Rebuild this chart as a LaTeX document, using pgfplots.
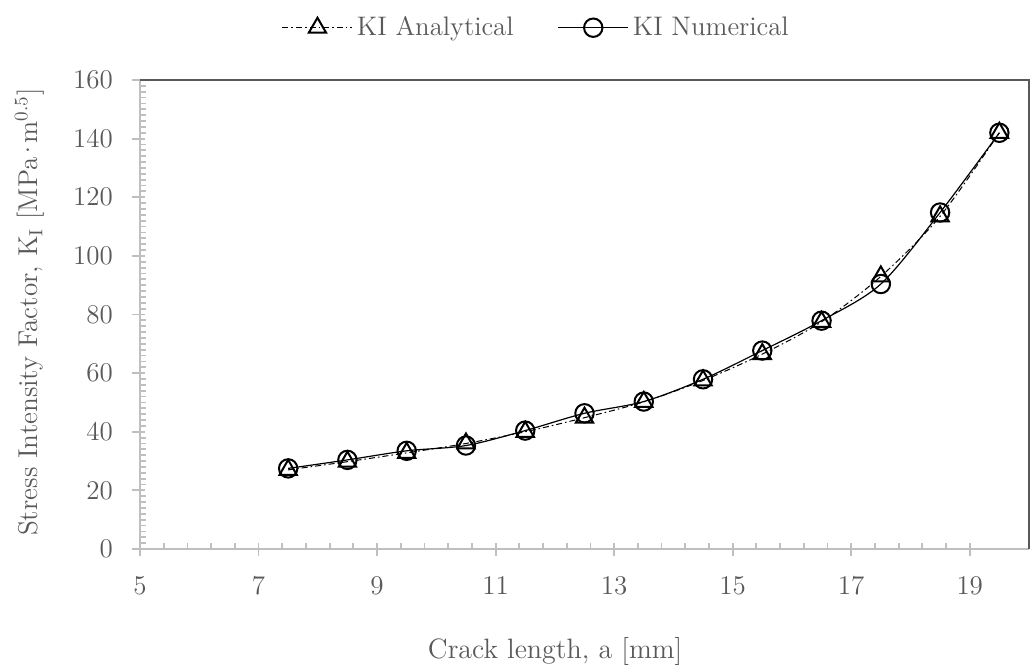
\documentclass[border=0pt]{standalone}
\usepackage{fontspec}
\usepackage{pgfplots}
\pgfplotsset{compat=1.18}
\definecolor{txt}{HTML}{595959}
\definecolor{axl}{HTML}{BFBFBF}
\definecolor{brd}{HTML}{595959}
\begin{document}
\begin{tikzpicture}
\useasboundingbox (-70pt,-61pt) rectangle (447pt,274.5pt);
\begin{axis}[
  at={(0,0)}, anchor=south west,
  scale only axis, width=444.5pt, height=234.5pt,
  xmin=5, xmax=20, ymin=0, ymax=160,
  xtick={5,7,...,19}, ytick={0,20,...,160},
  minor x tick num=4, minor y tick num=9,
  axis x line*=bottom, axis y line*=left,
  axis line style={axl, line width=0.9pt},
  every tick/.style={axl, line width=0.9pt},
  tick align=inside,
  major tick length=6.5pt, minor tick length=2.8pt,
  major x tick style={yshift=-3.5pt},
  major y tick style={xshift=-3.8pt},
  /pgf/number format/assume math mode=true,
  tick label style={text=txt, font=\fontsize{13.5}{15}\selectfont},
  xticklabel style={yshift=-10pt},
  yticklabel style={xshift=-10pt},
  every axis x label/.style={at={(axis description cs:0.467,0)}, anchor=center, yshift=-51pt},
  every axis y label/.style={at={(axis description cs:-0.124,0.505)}, anchor=center, rotate=90},
  label style={text=txt},
  x label style={font=\fontsize{14}{16}\selectfont},
  y label style={font=\fontsize{13.6}{16}\selectfont},
  xlabel={Crack length, a [mm]},
  ylabel={Stress Intensity Factor, K\textsubscript{I} [MPa\kern-1.8pt·\kern-1.8pt m\textsuperscript{0.5}]},
  legend style={draw=none, fill=none, at={(axis description cs:0.447,1.153)}, anchor=north,
    font=\fontsize{13.4}{15}\selectfont, text=txt,
    /tikz/every even column/.append style={column sep=20pt}},
  legend columns=2,
  legend image code/.code={\draw[mark repeat=2,mark phase=2,#1] plot coordinates {(0pt,0pt)(17.5pt,0pt)(35pt,0pt)};},
  clip=false,
]
\addplot[black, line width=0.5pt, smooth, dash pattern=on 3pt off 1.5pt on 0.8pt off 1.5pt,
  mark=triangle, mark size=5pt, mark options={solid, line width=1pt}]
coordinates {(7.5,27)(8.5,29.8)(9.5,32.8)(10.5,36)(11.5,40)(12.5,44.8)(13.5,50.2)(14.5,57.5)(15.5,66.5)(16.5,77.5)(17.5,93)(18.5,113.5)(19.5,142)};
\addlegendentry{KI Analytical}
\addplot[black, line width=0.6pt, smooth,
  mark=o, mark size=4.6pt, mark options={solid, line width=1pt}]
coordinates {(7.5,27.5)(8.5,30.4)(9.5,33.5)(10.5,35.3)(11.5,40.4)(12.5,46.3)(13.5,50.3)(14.5,57.9)(15.5,67.7)(16.5,77.9)(17.5,90.4)(18.5,114.8)(19.5,142)};
\addlegendentry{KI Numerical}
\draw[brd, line width=0.9pt] (rel axis cs:0,1) -- (rel axis cs:1,1) -- (rel axis cs:1,0);
\end{axis}
\end{tikzpicture}
\end{document}
